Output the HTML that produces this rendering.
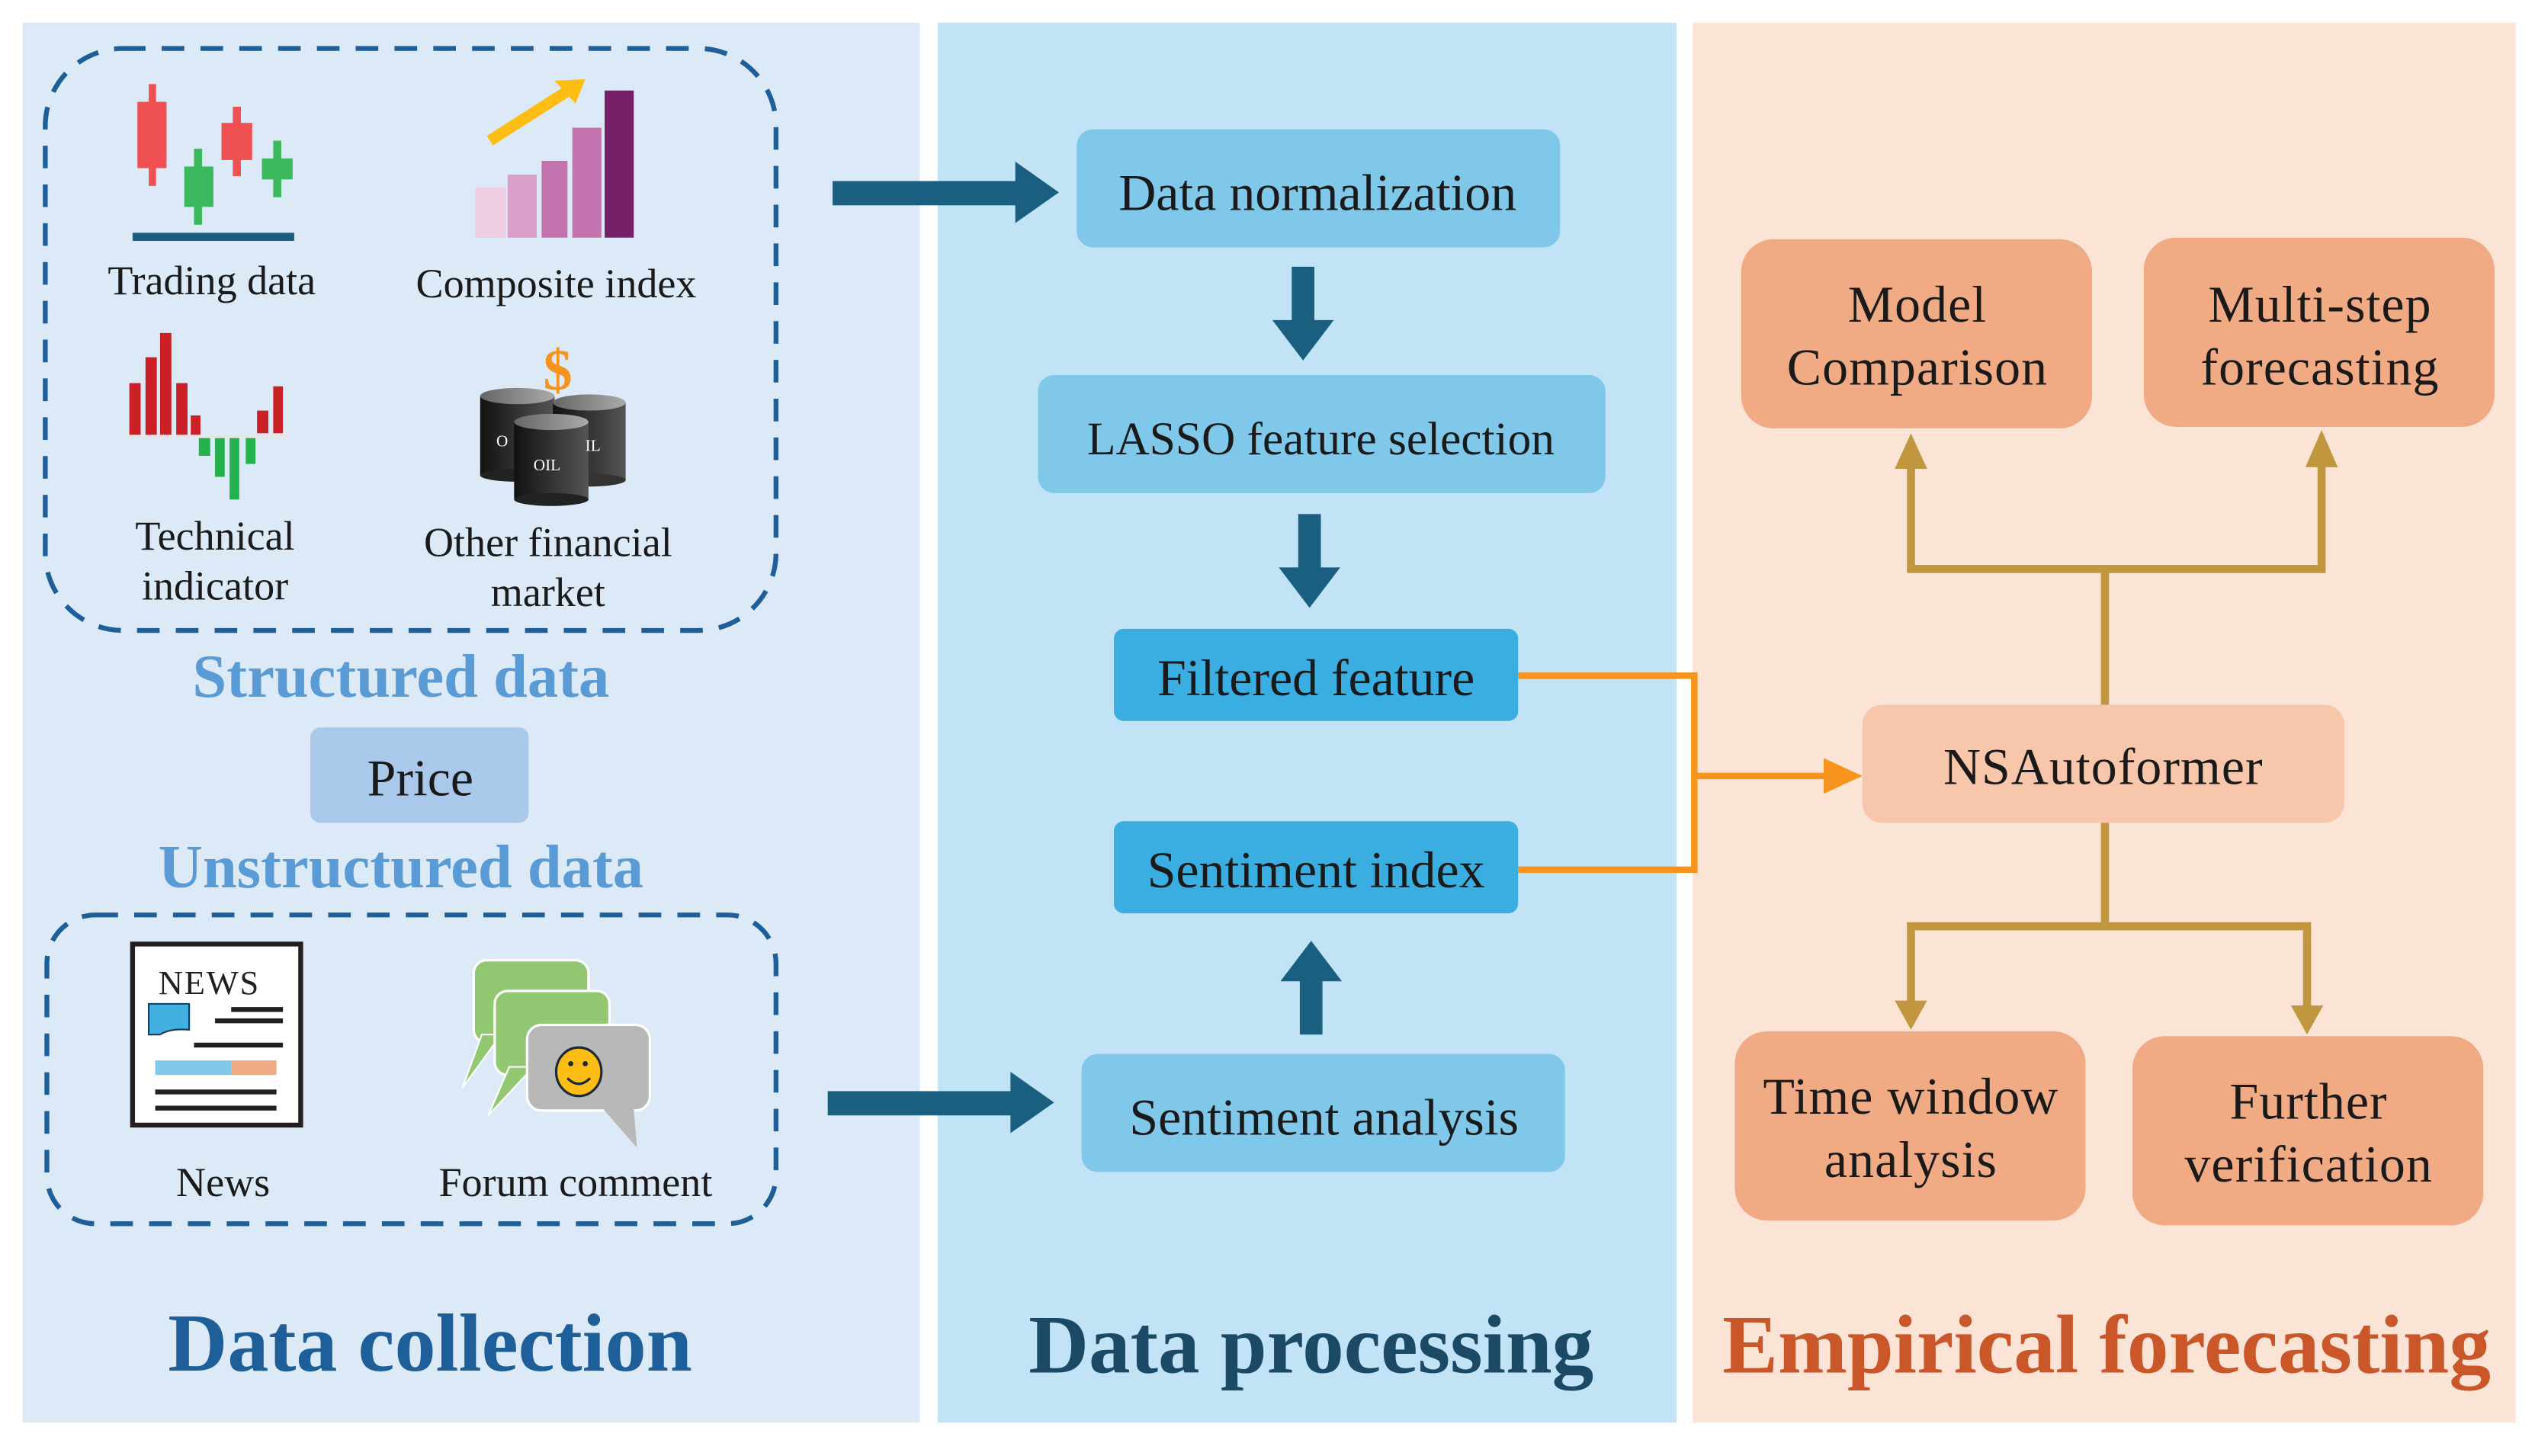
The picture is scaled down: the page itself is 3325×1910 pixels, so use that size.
<!DOCTYPE html>
<html><head><meta charset="utf-8"><style>
html,body{margin:0;padding:0;background:#fff;}
svg{display:block;}
text{font-family:"Liberation Serif",serif;}
</style></head><body>
<svg width="3325" height="1910" viewBox="0 0 1568 900.7" preserveAspectRatio="none" xmlns="http://www.w3.org/2000/svg">
<rect width="1568" height="901" fill="#fff"/>
<rect x="14" y="14" width="555" height="866" fill="#dce9f6"/>
<rect x="580" y="14" width="457" height="866" fill="#c2e2f5"/>
<rect x="1047" y="14" width="509" height="866" fill="#fbe3d6"/>

<rect x="28" y="30" width="452" height="360" rx="48" fill="none" stroke="#1f5f99" stroke-width="3" stroke-dasharray="14 10"/>
<rect x="92" y="52" width="4.5" height="63" fill="#ef5052"/><rect x="85" y="63" width="18" height="41" fill="#ef5052"/>
<rect x="120" y="92" width="5" height="47" fill="#3cb95e"/><rect x="114" y="103" width="18" height="25" fill="#3cb95e"/>
<rect x="144" y="66" width="5" height="43" fill="#ef5052"/><rect x="137" y="76" width="19" height="23" fill="#ef5052"/>
<rect x="169" y="87" width="5" height="35" fill="#3cb95e"/><rect x="162" y="98" width="19" height="13" fill="#3cb95e"/>
<rect x="82" y="144" width="100" height="5" fill="#1a5f80"/>
<rect x="294" y="116" width="19" height="31" fill="#efcde2"/>
<rect x="314" y="108" width="18" height="39" fill="#d8a0c8"/>
<rect x="335" y="99.5" width="16" height="47.5" fill="#c373ae"/>
<rect x="354" y="79" width="18" height="68" fill="#c373ae"/>
<rect x="374" y="56" width="18" height="91" fill="#76206a"/>
<line x1="303" y1="87" x2="350" y2="57" stroke="#fdbd13" stroke-width="7"/>
<polygon points="343,50 362,49 356,64" fill="#fdbd13"/>
<g fill="#cc2027">
<rect x="80" y="237" width="7" height="32"/><rect x="90" y="221" width="7" height="48"/><rect x="99" y="206" width="7" height="63"/><rect x="109" y="237" width="7" height="32"/><rect x="118" y="257" width="6" height="12"/><rect x="159" y="254" width="7" height="14"/><rect x="169" y="239" width="6" height="29"/></g>
<rect x="78" y="269" width="102" height="2" fill="#e6e6e6"/>
<g fill="#22b14c"><rect x="123" y="271" width="7" height="11"/><rect x="133" y="271" width="6" height="24"/><rect x="142" y="271" width="6" height="38"/><rect x="152" y="271" width="6" height="16"/></g>
<defs><linearGradient id="bg" x1="0" x2="1"><stop offset="0" stop-color="#111"/><stop offset="1" stop-color="#555"/></linearGradient>
<linearGradient id="tg" x1="0" x2="1"><stop offset="0" stop-color="#666"/><stop offset="1" stop-color="#aaa"/></linearGradient></defs>
<g>
<rect x="297" y="245" width="46" height="49" fill="url(#bg)"/><ellipse cx="320" cy="294" rx="23" ry="4" fill="#222"/><ellipse cx="320" cy="245" rx="23" ry="5" fill="url(#tg)"/>
<rect x="342" y="249" width="45" height="48" fill="url(#bg)"/><ellipse cx="364.5" cy="297" rx="22.5" ry="4" fill="#333"/><ellipse cx="364.5" cy="249" rx="22.5" ry="5" fill="url(#tg)"/>
<rect x="318" y="261" width="46" height="48" fill="url(#bg)"/><ellipse cx="341" cy="309" rx="23" ry="4" fill="#222"/><ellipse cx="341" cy="261" rx="23" ry="5" fill="url(#tg)"/>
<text x="307" y="276" font-size="10" fill="#fff">O</text><text x="362" y="279" font-size="10" fill="#fff">IL</text><text x="330" y="291" font-size="10" fill="#fff">OIL</text>
<text x="345" y="241" font-size="36" font-weight="bold" fill="#f7941d" text-anchor="middle" font-family="Liberation Sans,sans-serif">$</text>
</g>
<g font-size="25.5" fill="#1a1a1a" text-anchor="middle">
<text x="131" y="182">Trading data</text>
<text x="344" y="184">Composite index</text>
<text x="133" y="340">Technical</text><text x="133" y="371">indicator</text>
<text x="339" y="344">Other financial</text><text x="339" y="375">market</text>
</g>
<text x="248" y="431" font-size="38" font-weight="bold" fill="#5b9bd5" text-anchor="middle">Structured data</text>
<rect x="192" y="450" width="135" height="59" rx="6" fill="#a9c8ea"/>
<text x="260" y="492" font-size="32" fill="#1a1a1a" text-anchor="middle">Price</text>
<text x="248" y="549" font-size="38" font-weight="bold" fill="#5b9bd5" text-anchor="middle">Unstructured data</text>
<rect x="29" y="566" width="451" height="191" rx="30" fill="none" stroke="#1f5f99" stroke-width="3" stroke-dasharray="14 10"/>
<rect x="82" y="584" width="104" height="112" fill="#fff" stroke="#231f20" stroke-width="3"/>
<text x="98" y="615" font-size="21" fill="#231f20" textLength="62">NEWS</text>
<path d="M92,621 L117,621 L117,637 Q105,636 99,640 L92,640 Z" fill="#42b0e0" stroke="#1a3a5a" stroke-width="1"/>
<rect x="143" y="623" width="32" height="3" fill="#231f20"/><rect x="133" y="630" width="42" height="3" fill="#231f20"/><rect x="120" y="645" width="55" height="3" fill="#231f20"/>
<rect x="96" y="656" width="47" height="9" fill="#80c9ea"/><rect x="143" y="656" width="28" height="9" fill="#f0aa84"/>
<rect x="96" y="674" width="75" height="3" fill="#231f20"/><rect x="96" y="684" width="75" height="3" fill="#231f20"/>
<rect x="293" y="594" width="71" height="51" rx="8" fill="#93c873" stroke="#fff" stroke-width="1.5"/>
<polygon points="298,640 286,673 310,640" fill="#93c873" stroke="#fff" stroke-width="1"/>
<rect x="306" y="613" width="71" height="52" rx="8" fill="#93c873" stroke="#fff" stroke-width="1.5"/>
<polygon points="315,660 302,690 330,660" fill="#93c873" stroke="#fff" stroke-width="1"/>
<rect x="326" y="634" width="76" height="53" rx="9" fill="#b8b8b8" stroke="#fff" stroke-width="1.5"/>
<polygon points="373,686 394,710 392,686" fill="#b8b8b8"/>
<ellipse cx="358" cy="663" rx="14" ry="15" fill="#fdbd13" stroke="#1a2a3a" stroke-width="1.5"/>
<circle cx="353" cy="658" r="1.6" fill="#1a2a3a"/><circle cx="362" cy="658" r="1.6" fill="#1a2a3a"/>
<path d="M351,667 Q358,674 365,667" fill="none" stroke="#1a2a3a" stroke-width="1.5"/>
<g font-size="25.5" fill="#1a1a1a" text-anchor="middle">
<text x="138" y="740">News</text><text x="356" y="740">Forum comment</text>
</g>
<text x="266" y="848" font-size="51" font-weight="bold" fill="#1f5f99" text-anchor="middle">Data collection</text>

<g fill="#1a5f80">
<rect x="515" y="112" width="115" height="15"/><polygon points="628,100 655,119 628,138"/>
<rect x="512" y="675" width="115" height="15"/><polygon points="625,663 652,682 625,701"/>
<rect x="799" y="165" width="14" height="35"/><polygon points="787,198 825,198 806,223"/>
<rect x="803" y="318" width="14" height="35"/><polygon points="791,351 829,351 810,376"/>
<rect x="804" y="605" width="14" height="35"/><polygon points="792,607 830,607 811,582"/>
</g>
<rect x="666" y="80" width="299" height="73" rx="10" fill="#7fc8ea"/>
<rect x="642" y="232" width="351" height="73" rx="10" fill="#7fc8ea"/>
<rect x="689" y="389" width="250" height="57" rx="6" fill="#3aaee0"/>
<rect x="689" y="508" width="250" height="57" rx="6" fill="#3aaee0"/>
<rect x="669" y="652" width="299" height="73" rx="10" fill="#7fc8ea"/>
<g font-size="32" fill="#1a1a1a" text-anchor="middle">
<text x="815" y="130">Data normalization</text>
<text x="817" y="281" font-size="29" textLength="289" lengthAdjust="spacingAndGlyphs">LASSO feature selection</text>
<text x="814" y="430">Filtered feature</text>
<text x="814" y="549">Sentiment index</text>
<text x="819" y="702">Sentiment analysis</text>
</g>
<text x="811" y="849" font-size="51.5" font-weight="bold" fill="#1b4a66" text-anchor="middle">Data processing</text>

<polyline points="939,418 1048,418 1048,538 939,538" fill="none" stroke="#f7941d" stroke-width="4"/>
<line x1="1048" y1="480" x2="1132" y2="480" stroke="#f7941d" stroke-width="4"/>
<polygon points="1128,469 1152,480 1128,491" fill="#f7941d"/>

<g stroke="#c0963e" stroke-width="5" fill="none">
<polyline points="1302,436 1302,352"/>
<polyline points="1182,286 1182,352 1436,352 1436,286"/>
<polyline points="1302,509 1302,573"/>
<polyline points="1182,622 1182,573 1427,573 1427,624"/>
</g>
<g fill="#c0963e">
<polygon points="1172,290 1192,290 1182,268"/>
<polygon points="1426,289 1446,289 1436,266"/>
<polygon points="1172,619 1192,619 1182,637"/>
<polygon points="1417,622 1437,622 1427,640"/>
</g>
<rect x="1152" y="436" width="298" height="73" rx="12" fill="#f7c6ab"/>
<rect x="1077" y="148" width="217" height="117" rx="20" fill="#f0aa84"/>
<rect x="1326" y="147" width="217" height="117" rx="20" fill="#f0aa84"/>
<rect x="1073" y="638" width="217" height="117" rx="20" fill="#f0aa84"/>
<rect x="1319" y="641" width="217" height="117" rx="20" fill="#f0aa84"/>
<g font-size="32" fill="#1a1a1a" text-anchor="middle" letter-spacing="0.5">
<text x="1301" y="485">NSAutoformer</text>
<text x="1186" y="199">Model</text><text x="1186" y="238">Comparison</text>
<text x="1435" y="199">Multi-step</text><text x="1435" y="238">forecasting</text>
<text x="1182" y="689">Time window</text><text x="1182" y="728">analysis</text>
<text x="1428" y="692">Further</text><text x="1428" y="731">verification</text>
</g>
<text x="1303" y="849" font-size="51.5" font-weight="bold" fill="#c9572a" text-anchor="middle">Empirical forecasting</text>
</svg>
</body></html>
